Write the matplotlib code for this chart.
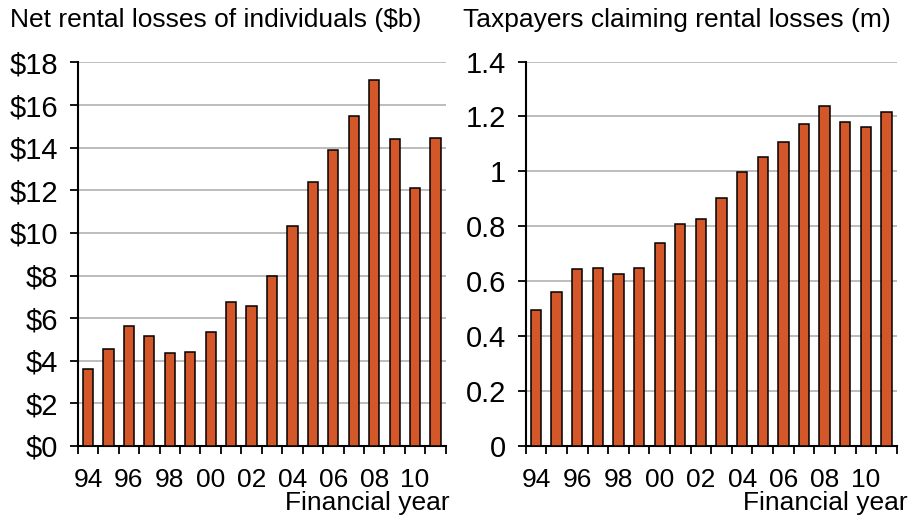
import matplotlib
matplotlib.use('Agg')
import matplotlib.pyplot as plt
from matplotlib.ticker import FuncFormatter

plt.rcParams['font.family'] = ['Liberation Sans', 'DejaVu Sans']
plt.rcParams['font.size'] = 19

years = ['94', '95', '96', '97', '98', '99', '00', '01', '02', '03',
         '04', '05', '06', '07', '08', '09', '10', '11']
losses = [3.61, 4.55, 5.63, 5.16, 4.37, 4.41, 5.35, 6.76, 6.57, 7.98,
          10.33, 12.38, 13.9, 15.5, 17.2, 14.41, 12.11, 14.45]
taxpayers = [0.495, 0.561, 0.645, 0.648, 0.626, 0.648, 0.738, 0.81, 0.826,
             0.902, 0.998, 1.051, 1.108, 1.173, 1.238, 1.18, 1.161, 1.215]

BAR = '#D4572A'
GRID = '#BDBDBD'


def style(ax, values, ymax, ystep, fmt, ypad, xlab_x):
    x = list(range(len(values)))
    ax.bar(x, values, width=0.5, color=BAR, edgecolor='black',
           linewidth=1.1, zorder=3)
    ax.set_xlim(-0.5, len(values) - 0.5)
    ax.set_ylim(0, ymax)
    nt = int(round(ymax / ystep))
    ax.set_yticks([i * ystep for i in range(nt + 1)])
    ax.yaxis.set_major_formatter(FuncFormatter(fmt))
    ax.grid(True, axis='y', color=GRID, linewidth=1.4, zorder=0)
    ax.set_axisbelow(True)
    # boundary ticks, labels every other year at bar centres
    ax.set_xticks([i - 0.5 for i in range(len(values) + 1)])
    ax.set_xticklabels([])
    ax.set_xticks(x[::2], minor=True)
    ax.set_xticklabels(years[::2], minor=True)
    ax.tick_params(axis='x', which='major', direction='out', length=6,
                   width=1.3, color='black')
    ax.tick_params(axis='x', which='minor', length=0, pad=16, labelsize=19)
    ax.tick_params(axis='y', direction='out', length=6, width=1.3, pad=ypad,
                   labelsize=21)
    for s in ['top', 'right']:
        ax.spines[s].set_visible(False)
    for s in ['left', 'bottom']:
        ax.spines[s].set_linewidth(1.5)
    ax.set_xlabel('Financial year', ha='right', va='top')
    ax.xaxis.set_label_coords(xlab_x, -0.118)


fig = plt.figure(figsize=(9.08, 5.16), dpi=100)
ax1 = fig.add_axes([0.0856, 0.1357, 0.4053, 0.7432])
ax2 = fig.add_axes([0.5790, 0.1357, 0.4086, 0.7451])

style(ax1, losses, 18, 2, lambda v, p: f'${v:.0f}', 8, 1.01)
style(ax2, taxpayers, 1.4, 0.2,
      lambda v, p: f'{v:.1f}'.rstrip('0').rstrip('.') if v else '0', 8, 1.028)

fig.text(0.011, 0.948, 'Net rental losses of individuals ($b)', fontsize=19)
fig.text(0.510, 0.948, 'Taxpayers claiming rental losses (m)', fontsize=19)

fig.savefig('out.png', dpi=100)
